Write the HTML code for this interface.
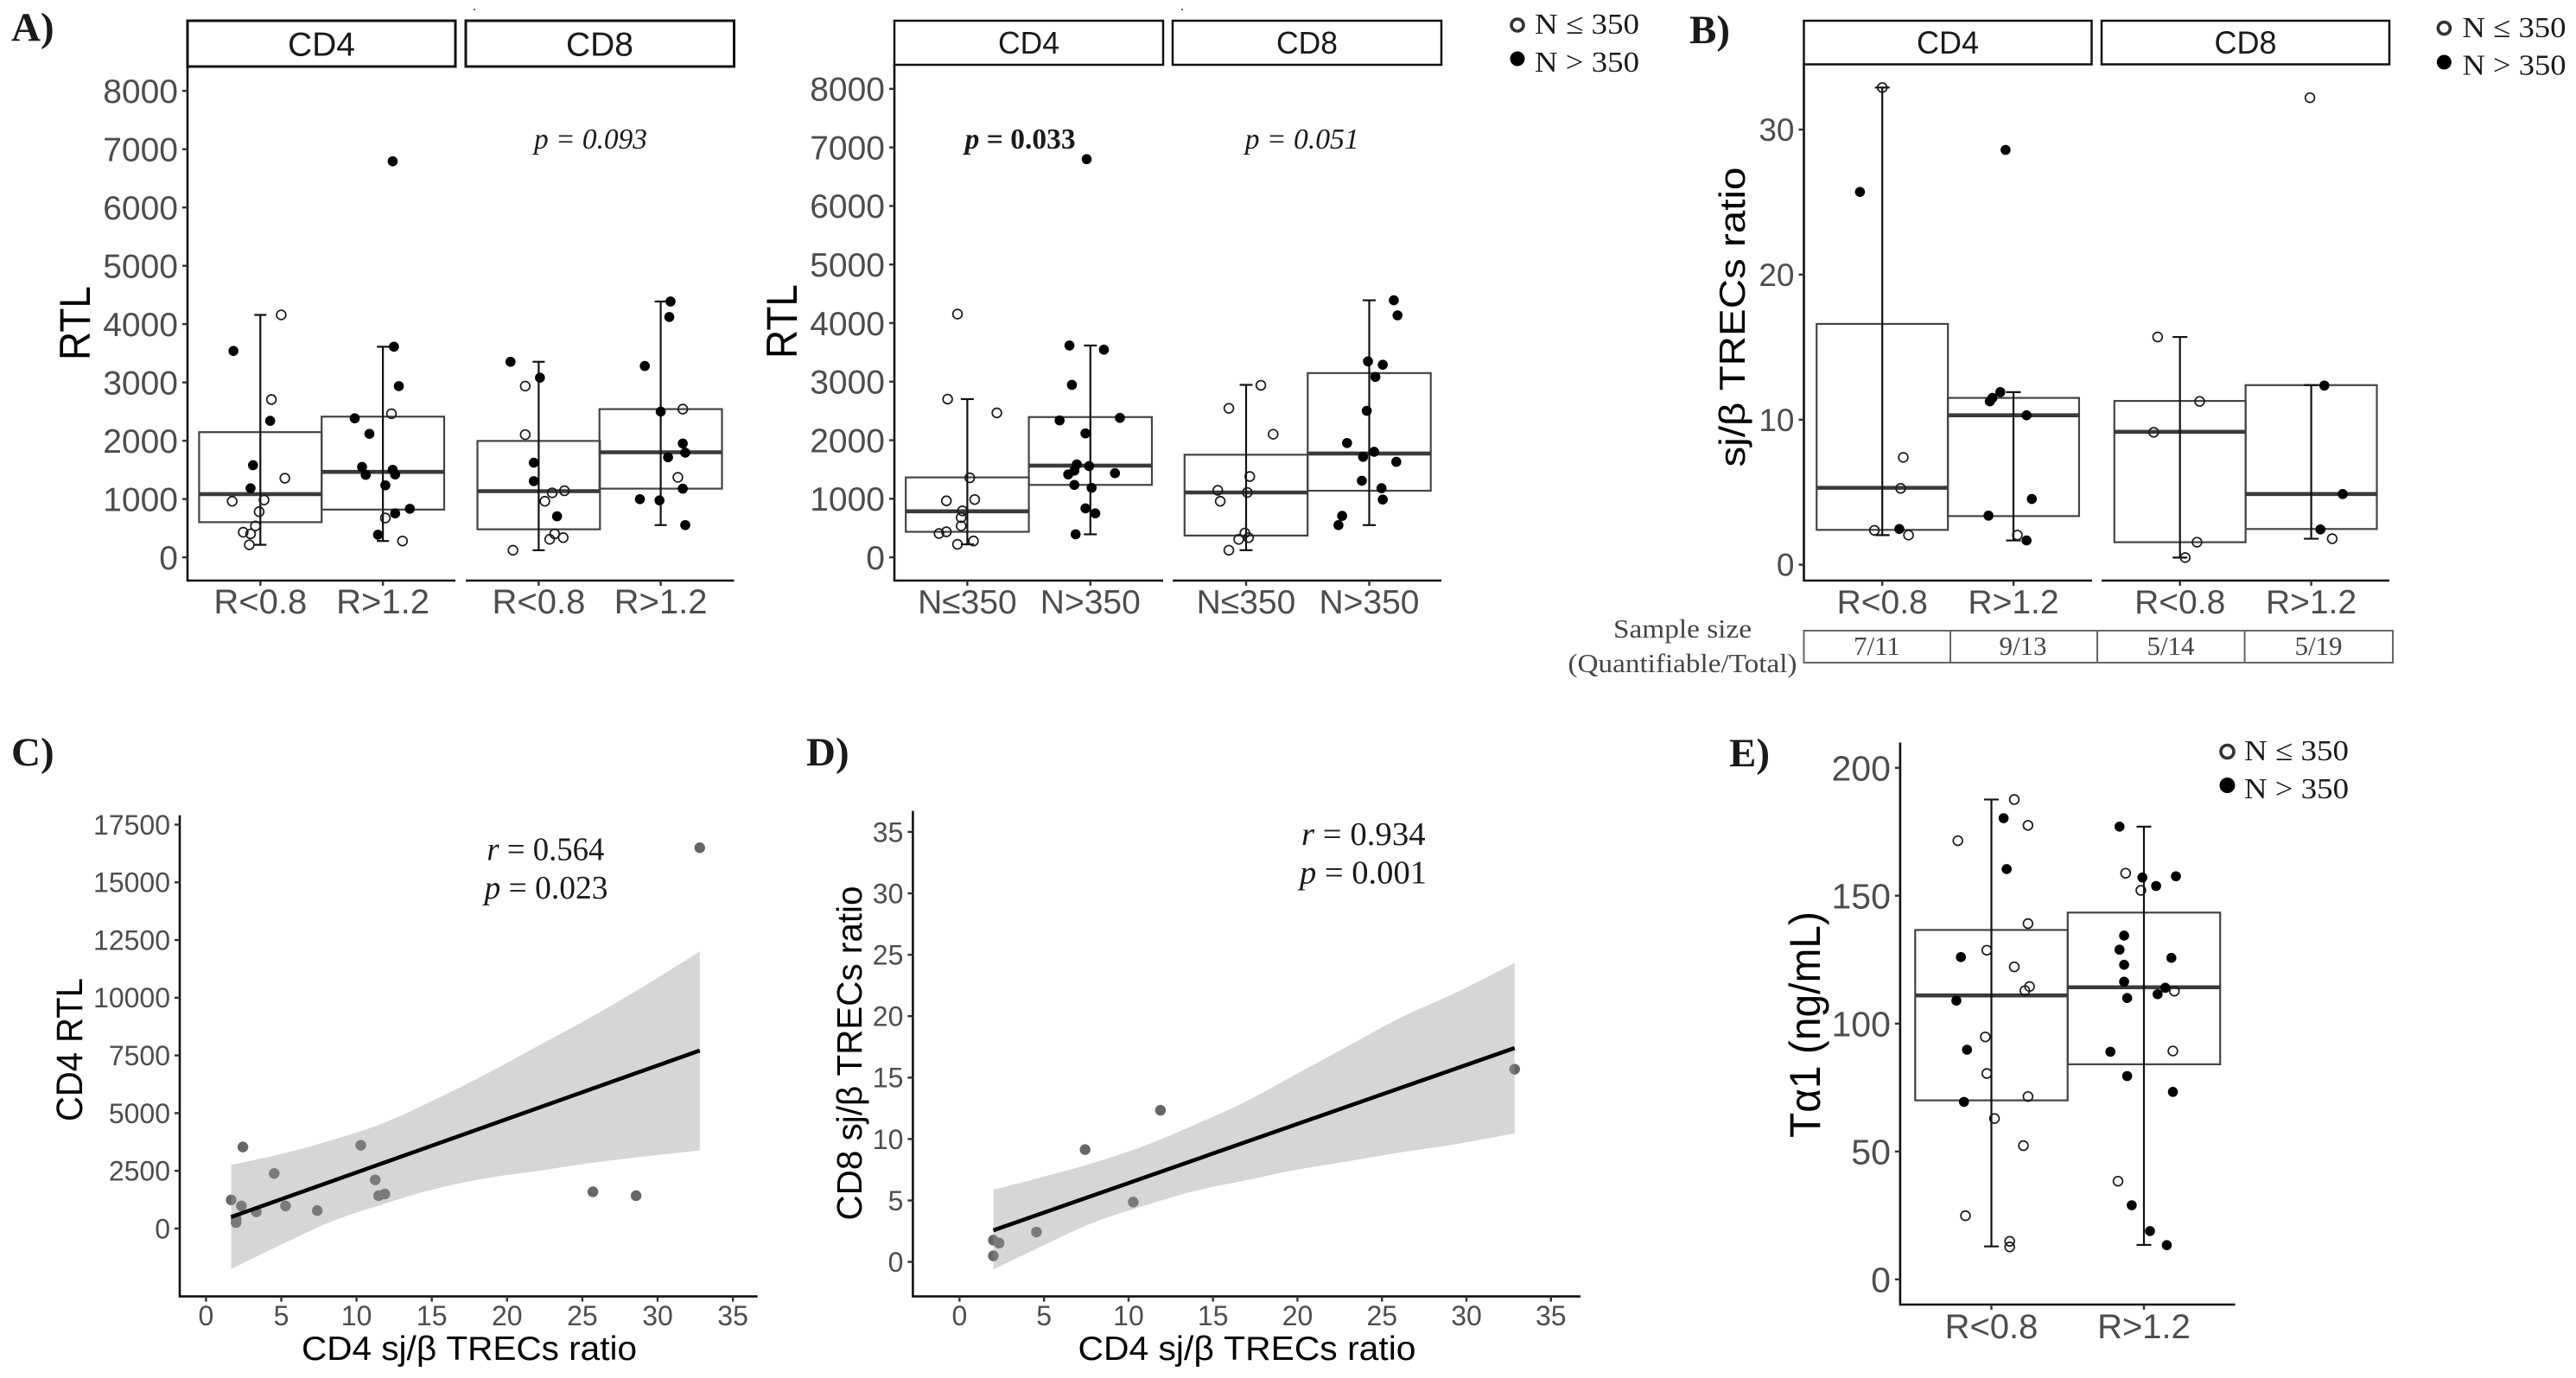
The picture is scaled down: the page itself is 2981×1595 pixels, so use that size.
<!DOCTYPE html>
<html lang="en">
<head>
<meta charset="utf-8">
<title>RTL and TREC ratio figure</title>
<style>
html,body{margin:0;padding:0;background:#fff;}
svg{display:block;}
.panel-letter{font-family:"Liberation Serif",serif;font-weight:bold;font-size:47px;fill:#1a1a1a;}
.strip{fill:#fff;stroke:#111;stroke-width:3;}
.strip-text{font-family:"Liberation Sans",sans-serif;fill:#1a1a1a;text-anchor:middle;}
.title{font-family:"Liberation Sans",sans-serif;fill:#000;text-anchor:middle;}
.anno{font-family:"Liberation Serif",serif;fill:#1a1a1a;}
.axis{stroke:#111;stroke-width:2.6;fill:none;}
.legend-text{font-family:"Liberation Serif",serif;font-size:34px;fill:#1a1a1a;}
.small{font-family:"Liberation Serif",serif;fill:#444;}
</style>
</head>
<body>
<svg id="fig" xmlns="http://www.w3.org/2000/svg" width="2981" height="1595" viewBox="0 0 2981 1595">
<rect x="0" y="0" width="2981" height="1595" fill="#fff"/>

<!-- Panel letters -->
<text class="panel-letter" x="13" y="47">A)</text>
<text class="panel-letter" x="1955" y="50">B)</text>
<text class="panel-letter" x="13" y="886">C)</text>
<text class="panel-letter" x="933" y="886">D)</text>
<text class="panel-letter" x="2001" y="887">E)</text>

<!-- Strips -->
<rect class="strip" x="217" y="24" width="310" height="53"/>
<rect class="strip" x="539" y="24" width="310.5" height="53"/>
<text class="strip-text" x="372" y="64.5" font-size="39" textLength="78" lengthAdjust="spacingAndGlyphs">CD4</text>
<text class="strip-text" x="694" y="64.5" font-size="39" textLength="78" lengthAdjust="spacingAndGlyphs">CD8</text>
<rect class="strip" x="1035" y="24" width="311" height="51" style="stroke-width:2.5"/>
<rect class="strip" x="1357" y="24" width="311" height="51" style="stroke-width:2.5"/>
<text class="strip-text" x="1190.5" y="62" font-size="36" textLength="71" lengthAdjust="spacingAndGlyphs">CD4</text>
<text class="strip-text" x="1512.5" y="62" font-size="36" textLength="71" lengthAdjust="spacingAndGlyphs">CD8</text>
<rect class="strip" x="2087.5" y="24" width="333" height="50.5" style="stroke-width:2.5"/>
<rect class="strip" x="2432" y="24" width="333" height="50.5" style="stroke-width:2.5"/>
<text class="strip-text" x="2254" y="62" font-size="37" textLength="72" lengthAdjust="spacingAndGlyphs">CD4</text>
<text class="strip-text" x="2598.5" y="62" font-size="37" textLength="72" lengthAdjust="spacingAndGlyphs">CD8</text>

<!-- Small specks above panel A -->
<circle cx="549" cy="11" r="1" fill="#333"/>
<circle cx="1368" cy="11" r="1" fill="#333"/>

<!-- Axis lines -->
<path class="axis" d="M217 77V672H527M539 672H849.5"/>
<path class="axis" d="M1035 75V672H1346M1357 672H1668"/>
<path class="axis" d="M2087.5 74V672H2421M2432 672H2765"/>
<path class="axis" d="M208 943.6V1500.6H876.6"/>
<path class="axis" d="M1056.4 938.6V1500.6H1829"/>
<path class="axis" d="M2198.9 859.5V1510H2586.6"/>

<!-- Axis titles -->
<text class="title" transform="translate(104 374) rotate(-90)" font-size="50" textLength="86" lengthAdjust="spacingAndGlyphs">RTL</text>
<text class="title" transform="translate(922 372) rotate(-90)" font-size="50" textLength="86" lengthAdjust="spacingAndGlyphs">RTL</text>
<text class="title" transform="translate(2019 367) rotate(-90)" font-size="42" textLength="347" lengthAdjust="spacingAndGlyphs">sj/β TRECs ratio</text>
<text class="title" transform="translate(95 1215) rotate(-90)" font-size="43" textLength="166" lengthAdjust="spacingAndGlyphs">CD4 RTL</text>
<text class="title" transform="translate(997 1219) rotate(-90)" font-size="41" textLength="387" lengthAdjust="spacingAndGlyphs">CD8 sj/β TRECs ratio</text>
<text class="title" transform="translate(2106 1186) rotate(-90)" font-size="50" textLength="262" lengthAdjust="spacingAndGlyphs">Tα1 (ng/mL)</text>
<text class="title" x="543" y="1574" font-size="39" textLength="388" lengthAdjust="spacingAndGlyphs">CD4 sj/β TRECs ratio</text>
<text class="title" x="1443" y="1574" font-size="39" textLength="391" lengthAdjust="spacingAndGlyphs">CD4 sj/β TRECs ratio</text>

<!-- Annotations -->
<text class="anno" x="618" y="172" font-size="34" font-style="italic" textLength="131" lengthAdjust="spacingAndGlyphs">p = 0.093</text>
<text class="anno" x="1116.6" y="172" font-size="34" font-weight="bold" textLength="128" lengthAdjust="spacingAndGlyphs"><tspan font-style="italic">p</tspan> = 0.033</text>
<text class="anno" x="1440.7" y="172" font-size="34" font-style="italic" textLength="132" lengthAdjust="spacingAndGlyphs">p = 0.051</text>
<text class="anno" x="563.4" y="995.5" font-size="38" textLength="136" lengthAdjust="spacingAndGlyphs"><tspan font-style="italic">r</tspan> = 0.564</text>
<text class="anno" x="560.5" y="1040" font-size="38" textLength="143" lengthAdjust="spacingAndGlyphs"><tspan font-style="italic">p</tspan> = 0.023</text>
<text class="anno" x="1506" y="978" font-size="38" textLength="143.6" lengthAdjust="spacingAndGlyphs"><tspan font-style="italic">r</tspan> = 0.934</text>
<text class="anno" x="1504" y="1022.7" font-size="38" textLength="147" lengthAdjust="spacingAndGlyphs"><tspan font-style="italic">p</tspan> = 0.001</text>

<!-- Legends -->
<circle cx="1756" cy="29" r="7" fill="#fff" stroke="#333" stroke-width="3.6"/>
<text class="legend-text" x="1776" y="39" textLength="121" lengthAdjust="spacingAndGlyphs">N ≤ 350</text>
<circle cx="1756" cy="68" r="8.5" fill="#000"/>
<text class="legend-text" x="1776" y="83" textLength="121" lengthAdjust="spacingAndGlyphs">N &gt; 350</text>
<circle cx="2828.4" cy="32.6" r="7" fill="#fff" stroke="#333" stroke-width="3.6"/>
<text class="legend-text" x="2849.5" y="43" textLength="120" lengthAdjust="spacingAndGlyphs">N ≤ 350</text>
<circle cx="2828.4" cy="72" r="8.5" fill="#000"/>
<text class="legend-text" x="2849.5" y="86.7" textLength="120" lengthAdjust="spacingAndGlyphs">N &gt; 350</text>
<circle cx="2577.5" cy="870" r="7.5" fill="#fff" stroke="#333" stroke-width="3.6"/>
<text class="legend-text" x="2597" y="880" textLength="121" lengthAdjust="spacingAndGlyphs">N ≤ 350</text>
<circle cx="2577.5" cy="909" r="9" fill="#000"/>
<text class="legend-text" x="2597" y="924" textLength="121" lengthAdjust="spacingAndGlyphs">N &gt; 350</text>

<!-- Sample size table -->
<text class="small" x="1947" y="738" font-size="31" text-anchor="middle" textLength="160" lengthAdjust="spacingAndGlyphs">Sample size</text>
<text class="small" x="1947" y="778" font-size="31" text-anchor="middle" textLength="265" lengthAdjust="spacingAndGlyphs">(Quantifiable/Total)</text>
<path d="M2087.5 730H2769V767H2087.5ZM2257 730V767M2427 730V767M2597.6 730V767" fill="none" stroke="#666" stroke-width="2"/>
<text class="small" x="2172" y="758" font-size="31" text-anchor="middle">7/11</text>
<text class="small" x="2341" y="758" font-size="31" text-anchor="middle">9/13</text>
<text class="small" x="2512" y="758" font-size="31" text-anchor="middle">5/14</text>
<text class="small" x="2683" y="758" font-size="31" text-anchor="middle">5/19</text>

<g id="marks"></g>
</svg>

<script>
/* ---------- Tick values and category labels ---------- */
const rtlTicks = [0,1000,2000,3000,4000,5000,6000,7000,8000];
const ratioTicks = [0,10,20,30];
const tallTicks = [0,50,100,150,200];
const cRtlTicks = [0,2500,5000,7500,10000,12500,15000,17500];
const dRatioTicks = [0,5,10,15,20,25,30,35];
const scatterXTicks = [0,5,10,15,20,25,30,35];
const ratioCategories = ['R<0.8','R>1.2'];
const countCategories = ['N≤350','N>350'];

/* ---------- Panel A1: RTL by ratio group (jitter in category widths) ---------- */
const a1Cd4LowValues = [4158,3540,2707,2341,1580,1357,1185,962,984,783,539,431,402,215];
const a1Cd4LowJitter = [.17,-.22,.09,.08,-.06,.20,-.08,-.23,.03,-.01,-.04,-.14,-.08,-.09];
const a1Cd4LowOpen = [1,0,1,0,0,1,0,1,1,1,1,1,1,1];
const a1Cd4LowBox = [603,1084,2147,215,4158];

const a1Cd4HighValues = [6793,3612,2937,2463,2384,2118,1551,1501,1415,1422,1235,833,754,675,388,280];
const a1Cd4HighJitter = [.08,.09,.13,.07,-.23,-.11,-.17,.08,-.14,.10,.02,.22,.10,.02,-.04,.16];
const a1Cd4HighOpen = [0,0,0,1,0,0,0,0,0,0,0,0,0,1,0,1];
const a1Cd4HighBox = [819,1465,2413,280,3612];

const a1Cd8LowValues = [3354,3081,2937,2104,1623,1307,1142,1106,962,704,402,338,309,122];
const a1Cd8LowJitter = [-.23,.01,-.11,-.11,-.04,-.04,.21,.11,.05,.15,.13,.20,.09,-.21];
const a1Cd8LowOpen = [0,0,1,1,0,0,1,1,1,0,1,1,1,1];
const a1Cd8LowBox = [481,1135,1996,122,3354];

const a1Cd8HighValues = [4388,4122,3282,2542,2499,1953,1795,1716,1372,1178,998,977,553];
const a1Cd8HighJitter = [.08,.07,-.13,.18,0,.18,.20,.06,.14,.18,-.17,-.01,.20];
const a1Cd8HighOpen = [0,0,0,1,0,0,0,0,1,0,0,0,0];
const a1Cd8HighBox = [1178,1802,2542,553,4388];

/* ---------- Panel A2: RTL by N group ---------- */
const a2Cd4LowValues = [4154,2702,2466,1358,987,965,794,679,536,436,407,279,222];
const a2Cd4LowJitter = [-.08,-.16,.24,.02,.06,-.17,-.04,-.05,-.05,-.17,-.23,.05,-.08];
const a2Cd4LowBox = [436,786,1365,222,2702];

const a2Cd4HighValues = [6799,3617,3546,2945,2338,2381,2116,1587,1558,1480,1416,1437,1237,1187,836,751,393];
const a2Cd4HighJitter = [-.03,-.17,.11,-.15,-.25,.24,-.04,-.11,-.01,-.13,-.18,.20,-.13,.01,-.04,.04,-.12];
const a2Cd4HighBox = [1237,1566,2395,393,3617];

const a2Cd8LowValues = [2938,2545,2102,1380,1144,1108,958,415,336,307,122];
const a2Cd8LowJitter = [.12,-.14,.22,.03,-.23,.01,-.21,-.01,.02,-.06,-.14];
const a2Cd8LowBox = [372,1108,1752,122,2945];

const a2Cd8HighValues = [4389,4132,3346,3289,3081,2502,1952,1802,1716,1630,1308,1180,987,708,550];
const a2Cd8HighJitter = [.20,.23,-.01,.11,.05,-.02,-.18,.04,-.05,.22,-.06,.10,.11,-.22,-.25];
const a2Cd8HighBox = [1137,1773,3146,550,4389];

/* ---------- Panel B: sj/beta TRECs ratio ---------- */
const bCd4LowValues = [32.9,25.7,7.4,5.26,2.46,2.37,2.04];
const bCd4LowJitter = [0,-.17,.16,.14,.13,-.06,.20];
const bCd4LowOpen = [1,0,1,1,0,1,1];
const bCd4LowBox = [2.4,5.3,16.6,2.04,32.9];

const bCd4HighValues = [28.6,11.9,11.5,11.26,10.3,4.53,3.38,2.04,1.67];
const bCd4HighJitter = [-.06,-.10,-.16,-.18,.10,.14,-.19,.03,.10];
const bCd4HighOpen = [0,0,0,0,0,0,0,1,0];
const bCd4HighBox = [3.35,10.3,11.5,1.67,11.9];

const bCd8LowValues = [15.7,11.26,9.13,1.55,.49];
const bCd8LowJitter = [-.17,.15,-.20,.13,.04];
const bCd8LowOpen = [1,1,1,1,1];
const bCd8LowBox = [1.55,9.16,11.29,.49,15.7];

const bCd8HighValues = [32.2,12.35,4.87,2.43,1.79];
const bCd8HighJitter = [-.01,.10,.24,.07,.16];
const bCd8HighOpen = [1,0,0,0,1];
const bCd8HighBox = [2.46,4.87,12.38,1.79,12.38];

/* ---------- Panel C: scatter with fit ---------- */
const cRatio = [32.8,10.28,2.45,4.53,11.24,11.88,11.47,25.7,28.57,1.67,2.35,5.28,7.39,3.34,2.0,2.0];
const cRtl = [16500,3607,3533,2386,2109,1498,1424,1591,1424,1239,980,980,777,721,425,259];
const cFitX = [1.67,32.8];
const cFitY = [500,7714];
const cBandX = [1.67,5.04,8.44,11.85,15.26,18.66,22.07,25.47,28.88,32.8];
const cBandUpper = [2756,3237,3848,4587,5605,6715,7917,9120,10414,12005];
const cBandLower = [-1757,-684,333,1073,1720,2183,2497,2830,3108,3385];

/* ---------- Panel D: scatter with fit ---------- */
const dCd4Ratio = [32.85,11.89,7.43,10.28,4.55,2.0,2.34,2.0];
const dCd8Ratio = [15.68,12.34,9.14,4.87,2.43,1.77,1.53,.49];
const dFitX = [2.0,32.85];
const dFitY = [2.57,17.41];
const dBandX = [2.0,4.82,7.86,10.89,13.92,16.96,19.99,23.02,26.06,29.39,32.85];
const dBandUpper = [5.87,6.88,8.03,9.42,11.16,13.07,15.33,17.59,19.85,21.93,24.33];
const dBandLower = [-.63,1.25,3.16,4.55,5.77,6.64,7.51,8.2,8.9,9.59,10.46];

/* ---------- Panel E: Talpha1 ---------- */
const eLowValues = [187.6,180.3,177.5,171.5,160.4,139.1,128.7,126,122.2,114.5,112.9,109,94.8,89.8,80.5,71.5,69.4,62.9,52.3,24.9,14.9,12.7];
const eLowJitter = [.15,.08,.24,-.22,.10,.24,-.03,-.20,.15,.25,.22,-.23,-.04,-.16,-.03,.24,-.18,.02,.21,-.17,.12,.12];
const eLowOpen = [1,0,1,1,0,1,1,0,1,1,1,0,1,0,1,1,0,1,1,1,1,1];
const eLowBox = [70,111,136.6,12.9,187.6];

const eHighValues = [177,158.8,157.1,157.6,153.8,152.1,134.4,128.9,125.7,123,116.4,114,112.7,111.5,110,89,89.3,79.5,73.3,38.4,29,18.9,13.4];
const eHighJitter = [-.16,-.12,-.01,.21,.08,-.02,-.13,-.16,.18,-.13,-.13,.14,.20,.09,-.11,-.22,.19,-.11,.19,-.17,-.08,.04,.15];
const eHighOpen = [0,1,0,0,0,1,0,0,0,0,0,0,1,0,0,0,1,0,0,1,0,0,0];
const eHighBox = [84.1,114.2,143.4,13.5,177];

/* ---------- Drawing helpers ---------- */
const SVGNS = 'http://www.w3.org/2000/svg';
const root = document.getElementById('marks');

function make(tag, name, attrs) {
  const el = document.createElementNS(SVGNS, tag);
  for (const k in attrs) el.setAttribute(k, attrs[k]);
  
  
  root.appendChild(el);
  return el;
}

function linear(d0, d1, r0, r1) {
  return function (v) { return r0 + (v - d0) * (r1 - r0) / (d1 - d0); };
}

function tickLabel(name, x, y, str, size, anchor) {
  const t = make('text', name, {
    x: x, y: y, 'font-size': size, 'text-anchor': anchor,
    'font-family': '"Liberation Sans", sans-serif', fill: '#4d4d4d'
  });
  t.textContent = str;
  return t;
}

function yAxis(prefix, scale, ticks, axisX, size) {
  ticks.forEach(function (v) {
    const y = scale(v);
    make('line', prefix + '-y-tick', { x1: axisX - 6, x2: axisX, y1: y, y2: y, stroke: '#333', 'stroke-width': 2.4 });
    tickLabel(prefix + '-y-tick-label', axisX - 11, y + size * 0.355, String(v), size, 'end');
  });
}

function xTick(prefix, x, axisY, str, size, baseline) {
  make('line', prefix + '-x-tick', { x1: x, x2: x, y1: axisY, y2: axisY + 6, stroke: '#333', 'stroke-width': 2.4 });
  tickLabel(prefix + '-x-tick-label', x, baseline, str, size, 'middle');
}

function group(prefix, catX, band, capW, scale, values, jitter, open, box) {
  const left = catX - band / 2;
  make('rect', prefix + '-box', {
    x: left, y: scale(box[2]), width: band, height: scale(box[0]) - scale(box[2]),
    fill: 'none', stroke: '#444', 'stroke-width': 2.2
  });
  make('line', prefix + '-median', {
    x1: left, x2: left + band, y1: scale(box[1]), y2: scale(box[1]), stroke: '#3a3a3a', 'stroke-width': 4.6
  });
  make('line', prefix + '-whisker', {
    x1: catX, x2: catX, y1: scale(box[4]), y2: scale(box[3]), stroke: '#111', 'stroke-width': 2.2
  });
  make('line', prefix + '-whisker-cap-high', {
    x1: catX - capW / 2, x2: catX + capW / 2, y1: scale(box[4]), y2: scale(box[4]), stroke: '#111', 'stroke-width': 2.2
  });
  make('line', prefix + '-whisker-cap-low', {
    x1: catX - capW / 2, x2: catX + capW / 2, y1: scale(box[3]), y2: scale(box[3]), stroke: '#111', 'stroke-width': 2.2
  });
  values.forEach(function (v, i) {
    const cx = catX + jitter[i] * band;
    if (open[i]) {
      make('circle', prefix + '-point-open', { cx: cx, cy: scale(v), r: 5.4, fill: 'none', stroke: '#1a1a1a', 'stroke-width': 1.7 });
    } else {
      make('circle', prefix + '-point-filled', { cx: cx, cy: scale(v), r: 5.8, fill: '#000' });
    }
  });
}

/* Smooth curve segments through a list of [x, y] points */
function smoothSegments(pts) {
  let d = '';
  for (let i = 0; i < pts.length - 1; i++) {
    const p0 = pts[Math.max(i - 1, 0)];
    const p1 = pts[i];
    const p2 = pts[i + 1];
    const p3 = pts[Math.min(i + 2, pts.length - 1)];
    d += ' C' + (p1[0] + (p2[0] - p0[0]) / 6) + ' ' + (p1[1] + (p2[1] - p0[1]) / 6) + ' ' +
         (p2[0] - (p3[0] - p1[0]) / 6) + ' ' + (p2[1] - (p3[1] - p1[1]) / 6) + ' ' +
         p2[0] + ' ' + p2[1];
  }
  return d;
}

function scatter(prefix, xs, ys, fitX, fitY, bandX, upper, lower, sx, sy) {
  xs.forEach(function (x, i) {
    make('circle', prefix + '-point', { cx: sx(x), cy: sy(ys[i]), r: 6.2, fill: '#666' });
  });
  const top = bandX.map(function (x, i) { return [sx(x), sy(upper[i])]; });
  const bottom = bandX.map(function (x, i) { return [sx(x), sy(lower[i])]; }).reverse();
  const d = 'M' + top[0][0] + ' ' + top[0][1] + smoothSegments(top) +
            ' L' + bottom[0][0] + ' ' + bottom[0][1] + smoothSegments(bottom) + ' Z';
  make('path', prefix + '-confidence-band', { d: d, fill: '#999', 'fill-opacity': 0.4 });
  make('line', prefix + '-fit-line', {
    x1: sx(fitX[0]), y1: sy(fitY[0]), x2: sx(fitX[1]), y2: sy(fitY[1]), stroke: '#000', 'stroke-width': 4.6
  });
}

/* ---------- Panel A1 ---------- */
(function () {
  const sy = linear(0, 8000, 645.1, 105.2);
  const band = 141.8, cap = 14;
  yAxis('a1', sy, rtlTicks, 217, 39);
  const cats = [301.3, 443.1, 623.4, 764.6];
  const labels = ratioCategories.concat(ratioCategories);
  cats.forEach(function (x, i) { xTick('a1', x, 672, labels[i], 40, 710); });
  group('a1-cd4-r-low', cats[0], band, cap, sy, a1Cd4LowValues, a1Cd4LowJitter, a1Cd4LowOpen, a1Cd4LowBox);
  group('a1-cd4-r-high', cats[1], band, cap, sy, a1Cd4HighValues, a1Cd4HighJitter, a1Cd4HighOpen, a1Cd4HighBox);
  group('a1-cd8-r-low', cats[2], band, cap, sy, a1Cd8LowValues, a1Cd8LowJitter, a1Cd8LowOpen, a1Cd8LowBox);
  group('a1-cd8-r-high', cats[3], band, cap, sy, a1Cd8HighValues, a1Cd8HighJitter, a1Cd8HighOpen, a1Cd8HighBox);
})();

/* ---------- Panel A2 ---------- */
(function () {
  const sy = linear(0, 8000, 645.1, 102.8);
  const band = 142.4, cap = 15;
  yAxis('a2', sy, rtlTicks, 1035, 39);
  const cats = [1119.4, 1261.8, 1442, 1584.5];
  const labels = countCategories.concat(countCategories);
  cats.forEach(function (x, i) { xTick('a2', x, 672, labels[i], 39, 710); });
  const allOpen = function (a) { return a.map(function () { return 1; }); };
  const noneOpen = function (a) { return a.map(function () { return 0; }); };
  group('a2-cd4-n-low', cats[0], band, cap, sy, a2Cd4LowValues, a2Cd4LowJitter, allOpen(a2Cd4LowValues), a2Cd4LowBox);
  group('a2-cd4-n-high', cats[1], band, cap, sy, a2Cd4HighValues, a2Cd4HighJitter, noneOpen(a2Cd4HighValues), a2Cd4HighBox);
  group('a2-cd8-n-low', cats[2], band, cap, sy, a2Cd8LowValues, a2Cd8LowJitter, allOpen(a2Cd8LowValues), a2Cd8LowBox);
  group('a2-cd8-n-high', cats[3], band, cap, sy, a2Cd8HighValues, a2Cd8HighJitter, noneOpen(a2Cd8HighValues), a2Cd8HighBox);
})();

/* ---------- Panel B ---------- */
(function () {
  const sy = linear(0, 30, 653.6, 150);
  const band = 151.9, cap = 17;
  yAxis('b', sy, ratioTicks, 2087.5, 37);
  const cats = [2178.2, 2330, 2522.7, 2674.6];
  const labels = ratioCategories.concat(ratioCategories);
  cats.forEach(function (x, i) { xTick('b', x, 672, labels[i], 39, 710); });
  group('b-cd4-r-low', cats[0], band, cap, sy, bCd4LowValues, bCd4LowJitter, bCd4LowOpen, bCd4LowBox);
  group('b-cd4-r-high', cats[1], band, cap, sy, bCd4HighValues, bCd4HighJitter, bCd4HighOpen, bCd4HighBox);
  group('b-cd8-r-low', cats[2], band, cap, sy, bCd8LowValues, bCd8LowJitter, bCd8LowOpen, bCd8LowBox);
  group('b-cd8-r-high', cats[3], band, cap, sy, bCd8HighValues, bCd8HighJitter, bCd8HighOpen, bCd8HighBox);
})();

/* ---------- Panel C ---------- */
(function () {
  const sx = linear(0, 35, 238.4, 848.1);
  const sy = linear(0, 17500, 1422, 954.5);
  yAxis('c', sy, cRtlTicks, 208, 32);
  scatterXTicks.forEach(function (v) { xTick('c', sx(v), 1500.6, String(v), 32, 1534); });
  scatter('c', cRatio, cRtl, cFitX, cFitY, cBandX, cBandUpper, cBandLower, sx, sy);
})();

/* ---------- Panel D ---------- */
(function () {
  const sx = linear(0, 35, 1110.4, 1794.8);
  const sy = linear(0, 35, 1460.6, 962.9);
  yAxis('d', sy, dRatioTicks, 1056.4, 32);
  scatterXTicks.forEach(function (v) { xTick('d', sx(v), 1500.6, String(v), 32, 1534); });
  scatter('d', dCd4Ratio, dCd8Ratio, dFitX, dFitY, dBandX, dBandUpper, dBandLower, sx, sy);
})();

/* ---------- Panel E ---------- */
(function () {
  const sy = linear(0, 200, 1480.9, 888.7);
  const band = 176.4, cap = 17;
  yAxis('e', sy, tallTicks, 2198.9, 41);
  const cats = [2304.5, 2481];
  cats.forEach(function (x, i) { xTick('e', x, 1510, ratioCategories[i], 40, 1549); });
  group('e-r-low', cats[0], band, cap, sy, eLowValues, eLowJitter, eLowOpen, eLowBox);
  group('e-r-high', cats[1], band, cap, sy, eHighValues, eHighJitter, eHighOpen, eHighBox);
})();
</script>
</body>
</html>
